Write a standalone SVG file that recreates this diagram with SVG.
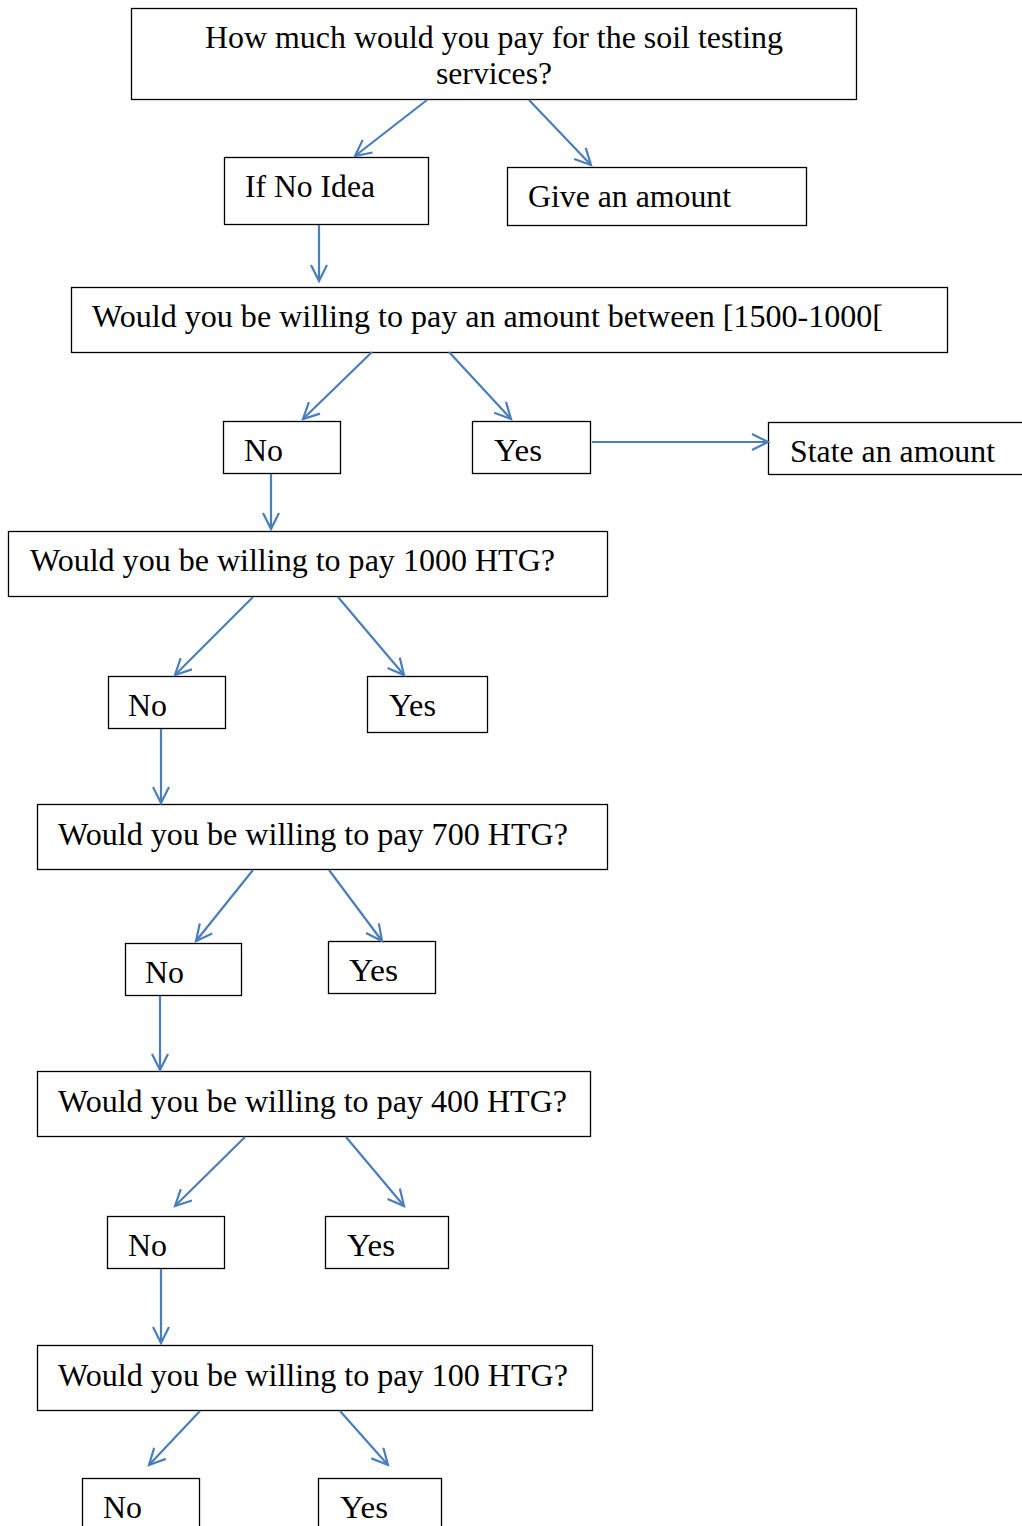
<svg xmlns="http://www.w3.org/2000/svg" width="1022" height="1526" viewBox="0 0 1022 1526">
  <style>
    .box { fill: #ffffff; stroke: #000000; stroke-width: 1.3; }
    .lbl { font-family: "Liberation Serif", "Times New Roman", serif; font-size: 32px; fill: #000000; }
    .edge { stroke: #4a7ebb; stroke-width: 2.2; fill: none; marker-end: url(#arrow); }
  </style>
  <defs>
    <marker id="arrow" markerWidth="20" markerHeight="20" refX="17" refY="9" orient="auto" markerUnits="userSpaceOnUse">
      <path d="M1,1 L17,9 L1,17" fill="none" stroke="#4a7ebb" stroke-width="2.2"/>
    </marker>
  </defs>
  <rect width="1022" height="1526" fill="#ffffff"/>

  <g id="q-pay">
    <rect class="box" x="131.5" y="8.5" width="725" height="91"/>
    <text class="lbl" x="205" y="48" textLength="578" lengthAdjust="spacingAndGlyphs">How much would you pay for the soil testing</text>
    <text class="lbl" x="436" y="84" textLength="116" lengthAdjust="spacingAndGlyphs">services?</text>
  </g>
  <g id="no-idea">
    <rect class="box" x="224.5" y="157.5" width="204" height="67"/>
    <text class="lbl" x="245" y="197" textLength="130" lengthAdjust="spacingAndGlyphs">If No Idea</text>
  </g>
  <g id="give-amount">
    <rect class="box" x="507.5" y="167.5" width="299" height="58"/>
    <text class="lbl" x="528" y="207" textLength="203" lengthAdjust="spacingAndGlyphs">Give an amount</text>
  </g>
  <g id="q-range">
    <rect class="box" x="71.5" y="287.5" width="876" height="65"/>
    <text class="lbl" x="92" y="327" textLength="791" lengthAdjust="spacingAndGlyphs">Would you be willing to pay an amount between [1500-1000[</text>
  </g>
  <g id="range-no">
    <rect class="box" x="223.5" y="421.5" width="117" height="52"/>
    <text class="lbl" x="244" y="461" textLength="39" lengthAdjust="spacingAndGlyphs">No</text>
  </g>
  <g id="range-yes">
    <rect class="box" x="472.5" y="421.5" width="118" height="52"/>
    <text class="lbl" x="494" y="461" textLength="48" lengthAdjust="spacingAndGlyphs">Yes</text>
  </g>
  <g id="state-amount">
    <rect class="box" x="768.5" y="422.5" width="260" height="52"/>
    <text class="lbl" x="790" y="462" textLength="205" lengthAdjust="spacingAndGlyphs">State an amount</text>
  </g>
  <g id="q-1000">
    <rect class="box" x="8.5" y="531.5" width="599" height="65"/>
    <text class="lbl" x="30" y="571" textLength="525" lengthAdjust="spacingAndGlyphs">Would you be willing to pay 1000 HTG?</text>
  </g>
  <g id="no-1000">
    <rect class="box" x="108.5" y="676.5" width="117" height="52"/>
    <text class="lbl" x="128" y="716" textLength="39" lengthAdjust="spacingAndGlyphs">No</text>
  </g>
  <g id="yes-1000">
    <rect class="box" x="367.5" y="676.5" width="120" height="56"/>
    <text class="lbl" x="389" y="716" textLength="47" lengthAdjust="spacingAndGlyphs">Yes</text>
  </g>
  <g id="q-700">
    <rect class="box" x="37.5" y="804.5" width="570" height="65"/>
    <text class="lbl" x="58" y="845" textLength="510" lengthAdjust="spacingAndGlyphs">Would you be willing to pay 700 HTG?</text>
  </g>
  <g id="no-700">
    <rect class="box" x="125.5" y="943.5" width="116" height="52"/>
    <text class="lbl" x="145" y="983" textLength="39" lengthAdjust="spacingAndGlyphs">No</text>
  </g>
  <g id="yes-700">
    <rect class="box" x="328.5" y="941.5" width="107" height="52"/>
    <text class="lbl" x="349" y="981" textLength="49" lengthAdjust="spacingAndGlyphs">Yes</text>
  </g>
  <g id="q-400">
    <rect class="box" x="37.5" y="1071.5" width="553" height="65"/>
    <text class="lbl" x="58" y="1112" textLength="509" lengthAdjust="spacingAndGlyphs">Would you be willing to pay 400 HTG?</text>
  </g>
  <g id="no-400">
    <rect class="box" x="107.5" y="1216.5" width="117" height="52"/>
    <text class="lbl" x="128" y="1256" textLength="39" lengthAdjust="spacingAndGlyphs">No</text>
  </g>
  <g id="yes-400">
    <rect class="box" x="325.5" y="1216.5" width="123" height="52"/>
    <text class="lbl" x="347" y="1256" textLength="48" lengthAdjust="spacingAndGlyphs">Yes</text>
  </g>
  <g id="q-100">
    <rect class="box" x="37.5" y="1345.5" width="555" height="65"/>
    <text class="lbl" x="58" y="1386" textLength="510" lengthAdjust="spacingAndGlyphs">Would you be willing to pay 100 HTG?</text>
  </g>
  <g id="no-100">
    <rect class="box" x="82.5" y="1478.5" width="117" height="60"/>
    <text class="lbl" x="103" y="1518" textLength="39" lengthAdjust="spacingAndGlyphs">No</text>
  </g>
  <g id="yes-100">
    <rect class="box" x="318.5" y="1478.5" width="123" height="60"/>
    <text class="lbl" x="340" y="1518" textLength="48" lengthAdjust="spacingAndGlyphs">Yes</text>
  </g>

  <g id="connectors">
    <line class="edge" x1="427" y1="100" x2="355" y2="156"/>
    <line class="edge" x1="529" y1="100" x2="591" y2="165"/>
    <line class="edge" x1="319" y1="225" x2="319" y2="281"/>
    <line class="edge" x1="372" y1="352" x2="303" y2="419"/>
    <line class="edge" x1="449" y1="352" x2="511" y2="419"/>
    <line class="edge" x1="592" y1="442" x2="768" y2="442"/>
    <line class="edge" x1="271" y1="474" x2="271" y2="529"/>
    <line class="edge" x1="253" y1="597" x2="175" y2="675"/>
    <line class="edge" x1="338" y1="597" x2="404" y2="675"/>
    <line class="edge" x1="161" y1="729" x2="161" y2="803"/>
    <line class="edge" x1="253" y1="870" x2="196" y2="941"/>
    <line class="edge" x1="329" y1="870" x2="382" y2="941"/>
    <line class="edge" x1="160" y1="996" x2="160" y2="1070"/>
    <line class="edge" x1="245" y1="1137" x2="175" y2="1206"/>
    <line class="edge" x1="346" y1="1137" x2="404" y2="1206"/>
    <line class="edge" x1="161" y1="1269" x2="161" y2="1343"/>
    <line class="edge" x1="200" y1="1411" x2="149" y2="1465"/>
    <line class="edge" x1="340" y1="1411" x2="388" y2="1465"/>
  </g>
</svg>
